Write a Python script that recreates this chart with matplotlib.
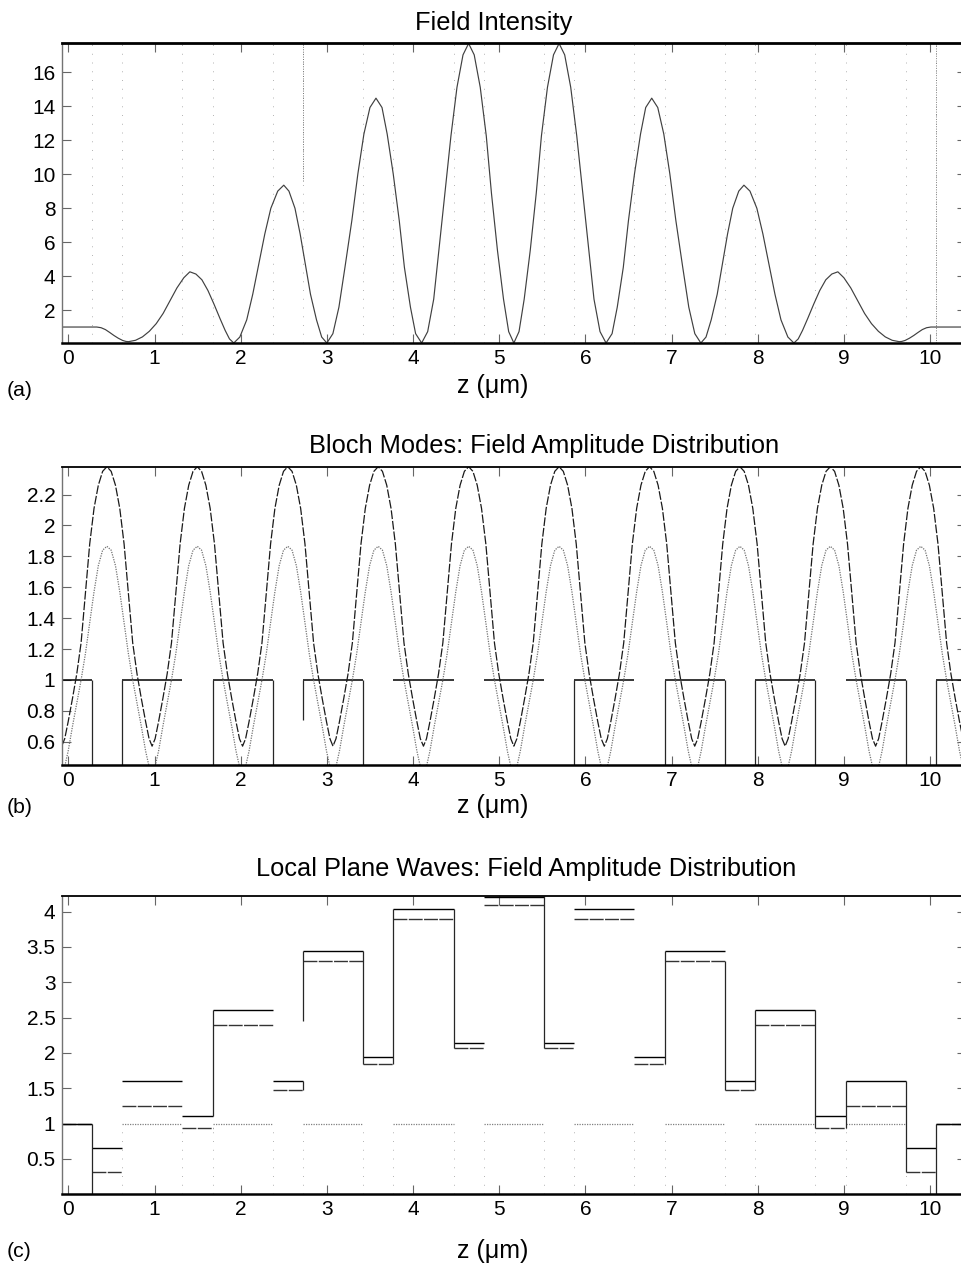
import matplotlib
matplotlib.use("Agg")
import matplotlib.pyplot as plt
import numpy as np

plt.rcParams['font.family'] = ['Liberation Sans', 'DejaVu Sans']

W, H = 962, 1266

# --- layer boundaries of the stack (um), first/last entries are the plot limits ---
edges = [-0.077, 0.272, 0.624, 1.321, 1.673, 2.371, 2.723, 3.420, 3.772, 4.470,
         4.822, 5.519, 5.871, 6.568, 6.920, 7.618, 7.970, 8.667, 9.019, 9.717,
         10.069, 10.417]
# normalised index profile per region (outside, A, B, A, ... , A, outside)
n_profile = [1, 0, 1, 0, 1, 0, 1, 0, 1, 0, 1, 0, 1, 0, 1, 0, 1, 0, 1, 0, 1]

# --- (a) field intensity ---
z_a = [-0.08, 0.33, 0.38, 0.43, 0.48, 0.53, 0.58, 0.63, 0.67,
       0.70, 0.78, 0.86, 0.94, 1.02, 1.10, 1.18, 1.26, 1.34, 1.41, 1.48, 1.55, 1.62, 1.69, 1.76, 1.82, 1.87,
       1.92, 1.99, 2.07, 2.14, 2.21, 2.28, 2.35, 2.43, 2.50, 2.56, 2.63, 2.69, 2.75, 2.81, 2.88, 2.94,
       3.00, 3.07, 3.14, 3.21, 3.29, 3.36, 3.43, 3.50, 3.57, 3.64, 3.70, 3.77, 3.84, 3.90, 3.97, 4.03,
       4.10, 4.17, 4.24, 4.30, 4.37, 4.44, 4.51, 4.58, 4.645, 4.71, 4.78, 4.85, 4.91, 4.98, 5.05, 5.11,
       5.17, 5.23, 5.29, 5.36, 5.43, 5.49, 5.56, 5.63, 5.695, 5.76, 5.83, 5.90, 5.97, 6.04, 6.10, 6.17,
       6.24, 6.31, 6.37, 6.44, 6.50, 6.57, 6.64, 6.70, 6.77, 6.84, 6.91, 6.98, 7.05, 7.13, 7.20, 7.27,
       7.34, 7.40, 7.46, 7.53, 7.59, 7.65, 7.71, 7.78, 7.84, 7.91, 7.99, 8.06, 8.13, 8.20, 8.27, 8.35,
       8.42, 8.47, 8.52, 8.58, 8.65, 8.72, 8.79, 8.86, 8.93, 9.00, 9.08, 9.16, 9.24, 9.32, 9.40, 9.48, 9.56,
       9.64, 9.67, 9.71, 9.76, 9.81, 9.86, 9.91, 9.96, 10.01, 10.42]
I_a = [1.00, 1.00, 0.96, 0.85, 0.68, 0.50, 0.34, 0.21, 0.15,
       0.14, 0.22, 0.42, 0.75, 1.20, 1.80, 2.55, 3.30, 3.90, 4.25, 4.12, 3.78, 3.15, 2.35, 1.50, 0.80, 0.30,
       0.06, 0.41, 1.42, 2.93, 4.71, 6.48, 7.99, 9.00, 9.35, 9.00, 7.99, 6.48, 4.71, 2.93, 1.42, 0.41,
       0.06, 0.61, 2.17, 4.51, 7.27, 10.02, 12.36, 13.92, 14.47, 13.92, 12.36, 10.02, 7.27, 4.51, 2.17, 0.61,
       0.06, 0.73, 2.64, 5.50, 8.88, 12.25, 15.11, 17.02, 17.69, 17.02, 15.11, 12.25, 8.88, 5.50, 2.64, 0.73,
       0.06, 0.73, 2.64, 5.50, 8.88, 12.25, 15.11, 17.02, 17.69, 17.02, 15.11, 12.25, 8.88, 5.50, 2.64, 0.73,
       0.06, 0.61, 2.17, 4.51, 7.27, 10.02, 12.36, 13.92, 14.47, 13.92, 12.36, 10.02, 7.27, 4.51, 2.17, 0.61,
       0.06, 0.41, 1.42, 2.93, 4.71, 6.48, 7.99, 9.00, 9.35, 9.00, 7.99, 6.48, 4.71, 2.93, 1.42, 0.41,
       0.06, 0.30, 0.80, 1.50, 2.35, 3.15, 3.78, 4.12, 4.25, 3.90, 3.30, 2.55, 1.80, 1.20, 0.75, 0.42, 0.22,
       0.14, 0.15, 0.21, 0.34, 0.50, 0.68, 0.85, 0.96, 1.00, 1.00]

# --- (b) Bloch modes: one period (trough to trough) and the trough positions ---
t_cell = [0.0, 0.035, 0.075, 0.125, 0.175, 0.225, 0.275, 0.325, 0.375, 0.425, 0.475, 0.5245,
          0.574, 0.624, 0.674, 0.724, 0.774, 0.824, 0.874, 0.924, 0.974, 1.014, 1.049]
mode1_cell = [0.572, 0.62, 0.73, 0.88, 1.04, 1.24, 1.56, 1.88, 2.11, 2.26, 2.35, 2.38,
              2.35, 2.26, 2.11, 1.88, 1.56, 1.24, 1.04, 0.88, 0.73, 0.62, 0.572]
mode2_cell = [0.40, 0.44, 0.54, 0.70, 0.85, 1.00, 1.17, 1.37, 1.57, 1.74, 1.84, 1.865,
              1.84, 1.74, 1.57, 1.37, 1.17, 1.00, 0.85, 0.70, 0.54, 0.44, 0.40]
cell_starts = [-0.077, 0.972, 2.022, 3.071, 4.121, 5.170, 6.220, 7.269, 8.318, 9.368]
# index-profile walls that show in the print (z, lower end, upper end)
b_wall_z = [0.272, 0.624, 1.673, 2.371, 2.723, 3.420, 5.871, 6.920, 7.618, 7.970, 8.667, 9.717, 10.069]
b_wall_lo = [0.0, 0.0, 0.0, 0.0, 0.74, 0.0, 0.0, 0.0, 0.0, 0.0, 0.0, 0.0, 0.0]

# --- (c) local plane waves: amplitude per layer region ---
lpw_upper = [1.0, 0.656, 1.607, 1.102, 2.61, 1.597, 3.449, 1.942, 4.034, 2.14, 4.21,
             2.14, 4.034, 1.942, 3.449, 1.597, 2.61, 1.102, 1.607, 0.656, 1.0]
lpw_lower = [1.0, 0.316, 1.253, 0.938, 2.398, 1.47, 3.307, 1.847, 3.893, 2.07, 4.095,
             2.07, 3.893, 1.847, 3.307, 1.47, 2.398, 0.938, 1.253, 0.316, 1.0]
# step walls that show in the print (z, lower end, upper end)
c_wall_z = [0.272, 1.673, 2.723, 2.723, 3.420, 3.772, 4.470, 5.519, 6.920, 7.618, 7.970,
            8.667, 9.019, 9.717, 10.069]
c_wall_lo = [0.0, 1.102, 1.47, 2.45, 1.847, 1.847, 2.07, 2.07, 1.847, 1.47, 1.47,
             0.938, 0.938, 0.316, 0.0]
c_wall_hi = [1.0, 2.61, 1.597, 3.449, 3.449, 4.034, 4.034, 4.226, 3.449, 3.307, 2.61,
             2.61, 1.607, 1.607, 1.0]

xticks = list(range(11))
yticks_a = [2, 4, 6, 8, 10, 12, 14, 16]
yticks_b = [0.6, 0.8, 1.0, 1.2, 1.4, 1.6, 1.8, 2.0, 2.2]
ylabels_b = ['0.6', '0.8', '1', '1.2', '1.4', '1.6', '1.8', '2', '2.2']
yticks_c = [0.5, 1, 1.5, 2, 2.5, 3, 3.5, 4]
ylabels_c = ['0.5', '1', '1.5', '2', '2.5', '3', '3.5', '4']


def add_axes_px(fig, left, top, right, bottom):
    return fig.add_axes([left / W, 1 - bottom / H, (right - left) / W, (bottom - top) / H])


def style_axes(ax, ylim, yticks, ylabels, top_lw):
    ax.set_xlim(edges[0], edges[-1])
    ax.set_ylim(*ylim)
    ax.set_xticks(xticks)
    ax.set_xticklabels([str(v) for v in xticks])
    ax.set_yticks(yticks)
    ax.set_yticklabels(ylabels)
    ax.tick_params(direction='in', length=6.5, width=0.8, color='0.4',
                   top=True, right=True, labelsize=15)
    ax.tick_params(axis='x', pad=4.3)
    ax.tick_params(axis='y', pad=4.5)
    ax.spines['left'].set_color('0.45')
    ax.spines['left'].set_linewidth(1.0)
    ax.spines['bottom'].set_linewidth(1.8)
    ax.spines['top'].set_linewidth(top_lw)


def fig_text(x, y, s, size, ha='center'):
    fig.text(x / W, 1 - y / H, s, ha=ha, va='baseline', fontsize=size)


def layer_tops(ax, values, **kw):
    # one horizontal segment per region, no connecting walls
    ax.hlines(values, edges[:-1], edges[1:], **kw)


fig = plt.figure(figsize=(W / 100, H / 100), dpi=100)

# ---------------- (a) ----------------
ax_a = add_axes_px(fig, 61.7, 43.3, 966, 343)
ylim_a = (0.06, 17.7)
ax_a.vlines(edges[1:-1], ylim_a[0], ylim_a[1], colors='0.7',
            linestyles=(0, (1, 8)), linewidth=0.7)
ax_a.vlines([2.723], 9.6, ylim_a[1], colors='0.45', linestyles=(0, (1, 1.5)), linewidth=0.7)
ax_a.vlines([10.069], ylim_a[0], ylim_a[1], colors='0.5', linestyles=(0, (1, 1.5)), linewidth=0.7)
ax_a.plot(z_a, I_a, color='0.25', linewidth=0.85)
style_axes(ax_a, ylim_a, yticks_a, [str(v) for v in yticks_a], 2.0)

# ---------------- (b) ----------------
ax_b = add_axes_px(fig, 61.7, 466.7, 966, 765)
z_b = np.concatenate([s + np.array(t_cell) for s in cell_starts])
m1_b = np.concatenate([mode1_cell for _ in cell_starts])
m2_b = np.concatenate([mode2_cell for _ in cell_starts])
n_prof = np.array(n_profile, dtype=float)
layer_tops(ax_b, np.where(n_prof > 0, n_prof, np.nan), colors='black', linewidth=1.1)
ax_b.vlines(b_wall_z, b_wall_lo, 1.0, colors='0.15', linewidth=0.9)
ax_b.plot(z_b, m2_b, color='0.45', linewidth=0.9, linestyle=(0, (1, 1)))
ax_b.plot(z_b, m1_b, color='0.1', linewidth=0.9, linestyle=(0, (7, 1.5)))
style_axes(ax_b, (0.45, 2.38), yticks_b, ylabels_b, 1.3)

# ---------------- (c) ----------------
ax_c = add_axes_px(fig, 61.7, 895.7, 966, 1194.3)
inner = n_prof.copy()
inner[0] = np.nan
inner[-1] = np.nan
layer_tops(ax_c, np.where(inner > 0, inner, np.nan), colors='0.5', linewidth=0.9,
           linestyles=(0, (1, 1)))
ax_c.vlines(edges[1:-1], 0.0, 1.0, colors='0.7', linestyles=(0, (1, 8)), linewidth=0.7)
layer_tops(ax_c, lpw_lower, colors='0.2', linewidth=1.0, linestyles=(0, (10, 1)))
layer_tops(ax_c, lpw_upper, colors='black', linewidth=1.0)
ax_c.vlines(c_wall_z, c_wall_lo, c_wall_hi, colors='0.15', linewidth=0.9)
style_axes(ax_c, (0.0, 4.226), yticks_c, ylabels_c, 1.3)

# ---------------- texts ----------------
fig_text(494, 30, 'Field Intensity', 18.3)
fig_text(544, 452.7, 'Bloch Modes: Field Amplitude Distribution', 18.3)
fig_text(526, 876, 'Local Plane Waves: Field Amplitude Distribution', 18.3)
for yb in (393, 813, 1258):
    fig_text(493, yb, 'z (\u03bcm)', 18)
fig_text(7, 396, '(a)', 15.3, ha='left')
fig_text(7, 813, '(b)', 15.3, ha='left')
fig_text(7, 1257, '(c)', 15.3, ha='left')

fig.savefig('out.png', dpi=100)
